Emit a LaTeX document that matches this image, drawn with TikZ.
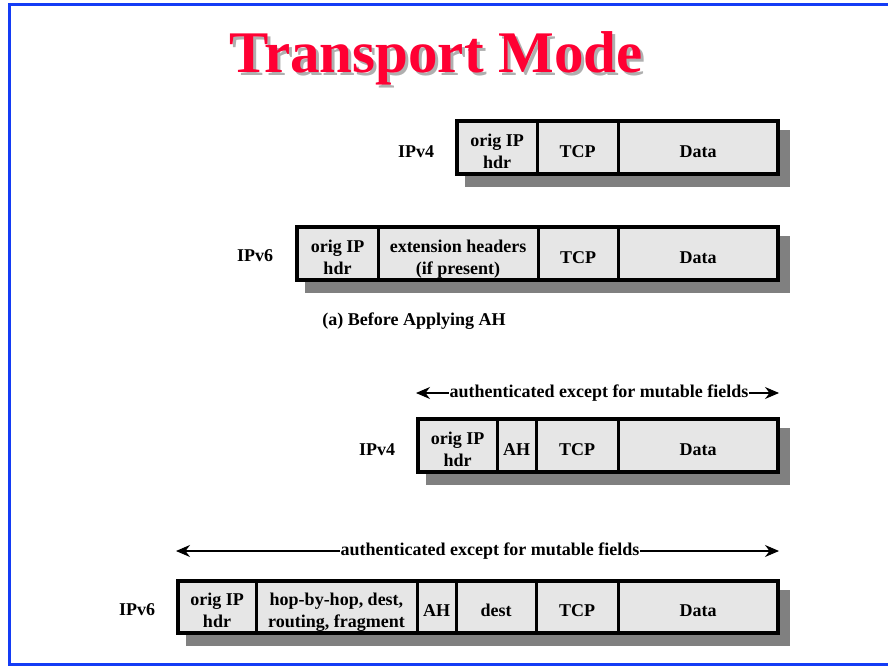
\documentclass[tikz,border=0pt]{standalone}
\usepackage{fontspec}
\setmainfont{Liberation Serif}
\usetikzlibrary{arrows.meta}
\definecolor{framecol}{RGB}{20,60,245}
\definecolor{titlered}{RGB}{255,0,51}
\definecolor{titleshadow}{RGB}{175,175,175}
\definecolor{cellfill}{RGB}{230,230,230}
\definecolor{boxshadow}{RGB}{128,128,128}
\newcommand{\celltext}[1]{\raisebox{-5.5pt}[\height][\depth]{\begin{tabular}{@{}c@{}}#1\end{tabular}}}
\tikzset{
  txt/.style={font=\fontsize{18}{22}\selectfont\bfseries},
  cell/.style={txt, draw, line width=3pt, fill=cellfill, inner sep=0pt, outer sep=0pt},
  outerbox/.style={draw, line width=4pt},
  boxshade/.style={fill=boxshadow},
  span/.style={line width=1.1pt, {Stealth[length=14pt,width=12pt]}-{Stealth[length=14pt,width=12pt]}},
  spantext/.style={txt, fill=white, inner xsep=1pt, inner ysep=3pt},
  titletext/.style={font=\fontsize{59}{62}\selectfont\bfseries, anchor=base, inner sep=0pt}
}
\begin{document}
\begin{tikzpicture}[x=1pt,y=-1pt]
\useasboundingbox (0,0) rectangle (888,666);
\begin{scope}
\clip (0,0) rectangle (888,666);
\draw[framecol, line width=3pt] (9.5,4.5) rectangle (900,664.5);
\end{scope}
% title
\node[titletext, text=titleshadow] (titleshadow) at (439,76) {Transport Mode};
\node[titletext, text=titlered] (title) at (436,73) {Transport Mode};

% ---- Row 1: IPv4 before
\fill[boxshade] (465,130) rectangle (790,187);
\node[cell, minimum width=80pt, minimum height=53pt] (r1a) at (497,147.5) {\celltext{orig IP\\hdr}};
\node[cell, minimum width=81pt, minimum height=53pt] (r1b) at (577.5,147.5) {\celltext{TCP}};
\node[cell, minimum width=160pt, minimum height=53pt] (r1c) at (698,147.5) {\celltext{Data}};
\draw[outerbox] (r1a.north west) rectangle (r1c.south east);
\node[txt] (l1) at (416,152) {IPv4};

% ---- Row 2: IPv6 before
\fill[boxshade] (305,236) rectangle (790,293);
\node[cell, minimum width=81pt, minimum height=53pt] (r2a) at (337.5,253.5) {\celltext{orig IP\\hdr}};
\node[cell, minimum width=160pt, minimum height=53pt] (r2b) at (458,253.5) {\celltext{extension headers\\(if present)}};
\node[cell, minimum width=80pt, minimum height=53pt] (r2c) at (578,253.5) {\celltext{TCP}};
\node[cell, minimum width=160pt, minimum height=53pt] (r2d) at (698,253.5) {\celltext{Data}};
\draw[outerbox] (r2a.north west) rectangle (r2d.south east);
\node[txt] (l2) at (255,256) {IPv6};

\node[txt] (cap) at (414,321) {(a) Before Applying AH};

% ---- Row 3: IPv4 with AH
\coordinate (s3l) at (416,393);
\coordinate (s3r) at (779,393);
\draw[span] (s3l) -- (s3r);
\node[spantext] (t3) at (599,393) {authenticated except for mutable fields};
\fill[boxshade] (426,428) rectangle (790,485);
\node[cell, minimum width=79pt, minimum height=53pt] (r3a) at (457.5,445.5) {\celltext{orig IP\\hdr}};
\node[cell, minimum width=39pt, minimum height=53pt] (r3b) at (516.5,445.5) {\celltext{AH}};
\node[cell, minimum width=82pt, minimum height=53pt] (r3c) at (577,445.5) {\celltext{TCP}};
\node[cell, minimum width=160pt, minimum height=53pt] (r3d) at (698,445.5) {\celltext{Data}};
\draw[outerbox] (r3a.north west) rectangle (r3d.south east);
\node[txt] (l3) at (377,450) {IPv4};

% ---- Row 4: IPv6 with AH
\coordinate (s4l) at (176,551);
\coordinate (s4r) at (779,551);
\draw[span] (s4l) -- (s4r);
\node[spantext] (t4) at (490,551) {authenticated except for mutable fields};
\fill[boxshade] (186,590) rectangle (790,646);
\node[cell, minimum width=78pt, minimum height=52pt] (r4a) at (217,607) {\celltext{orig IP\\hdr}};
\node[cell, minimum width=161pt, minimum height=52pt] (r4b) at (336.5,607) {\celltext{hop-by-hop, dest,\\routing, fragment}};
\node[cell, minimum width=39pt, minimum height=52pt] (r4c) at (436.5,607) {\celltext{AH}};
\node[cell, minimum width=80pt, minimum height=52pt] (r4d) at (496,607) {\celltext{dest}};
\node[cell, minimum width=82pt, minimum height=52pt] (r4e) at (577,607) {\celltext{TCP}};
\node[cell, minimum width=160pt, minimum height=52pt] (r4f) at (698,607) {\celltext{Data}};
\draw[outerbox] (r4a.north west) rectangle (r4f.south east);
\node[txt] (l4) at (137,610) {IPv6};
\end{tikzpicture}
\end{document}
